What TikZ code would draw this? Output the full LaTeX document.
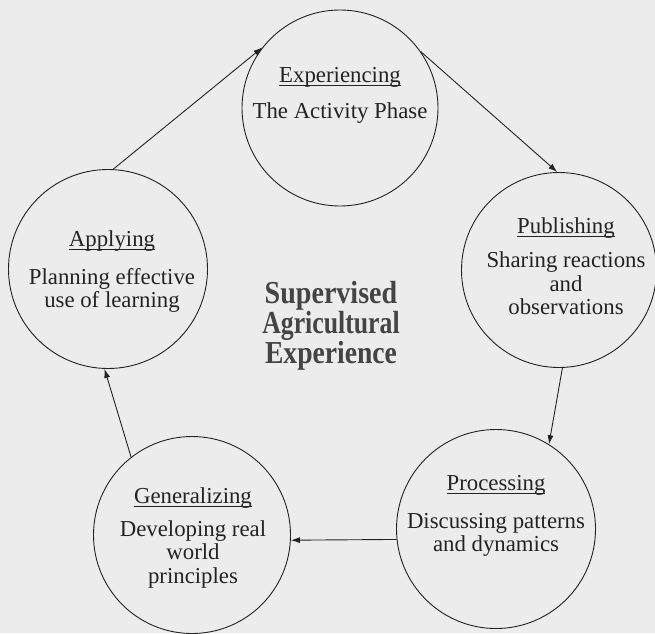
\documentclass[tikz,border=0pt]{standalone}
\usepackage{fontspec}
\setmainfont{Liberation Serif}
\usetikzlibrary{arrows.meta}

\definecolor{paper}{RGB}{236,236,236}
\definecolor{ink}{RGB}{35,35,35}
\definecolor{headink}{RGB}{68,68,68}

% stage title with a rule a little below the baseline
\newcommand{\stagename}[1]{\setbox0\hbox{#1}\rlap{\rule[-3.5pt]{\wd0}{0.7pt}}\box0}

\begin{document}
\begin{tikzpicture}[x=1pt,y=-1pt,
  stage/.style={circle,draw=ink,line width=0.9pt,minimum size=#1,inner sep=0pt},
  stagetext/.style={anchor=north,align=center,inner sep=0pt,text=ink,
    font=\fontsize{22.8}{23.5}\selectfont},
  flow/.style={draw=ink,line width=0.9pt,-{Latex[length=9pt,width=6pt]}},
  hub/.style={anchor=north,align=center,inner sep=0pt,text=headink,
    font=\bfseries\fontsize{32}{27.5}\selectfont},
]
\fill[paper] (0,0) rectangle (655,633);
\useasboundingbox (0,0) rectangle (655,633);

% the five stages of the cycle
\node[stage=196pt] (exp)  at (340,108) {};
\node[stage=195pt] (pub)  at (559,270) {};
\node[stage=199pt] (proc) at (496,529) {};
\node[stage=197pt] (gen)  at (192,535) {};
\node[stage=199pt] (app)  at (108,269) {};

\node[stagetext] (exptext) at (340,67)
  {\stagename{Experiencing}\\[12.5pt]The Activity Phase};
\node[stagetext] (pubtext) at (566,217)
  {\stagename{Publishing}\\[11pt]Sharing reactions\\and\\observations};
\node[stagetext] (proctext) at (496,475)
  {\stagename{Processing}\\[14.5pt]Discussing patterns\\and dynamics};
\node[stagetext] (gentext) at (193,487)
  {\stagename{Generalizing}\\[9.5pt]Developing real\\world\\principles};
\node[stagetext] (apptext) at (112,230)
  {\stagename{Applying}\\[14.5pt]Planning effective\\use of learning};

% centre heading
\node[hub] (sae) at (331,281)
  {\scalebox{0.877}[1]{Supervised}\\\scalebox{0.805}[1]{Agricultural}\\\scalebox{0.863}[1]{Experience}};

% arrows around the cycle
\draw[flow] (app.87)   -- (exp.142);
\draw[flow] (exp.35)   -- (pub.91);
\draw[flow] (pub.272)  -- (proc.58);
\draw[flow] (proc.186) -- (gen.357);
\draw[flow] (gen.128)  -- (app.268);
\end{tikzpicture}
\end{document}
